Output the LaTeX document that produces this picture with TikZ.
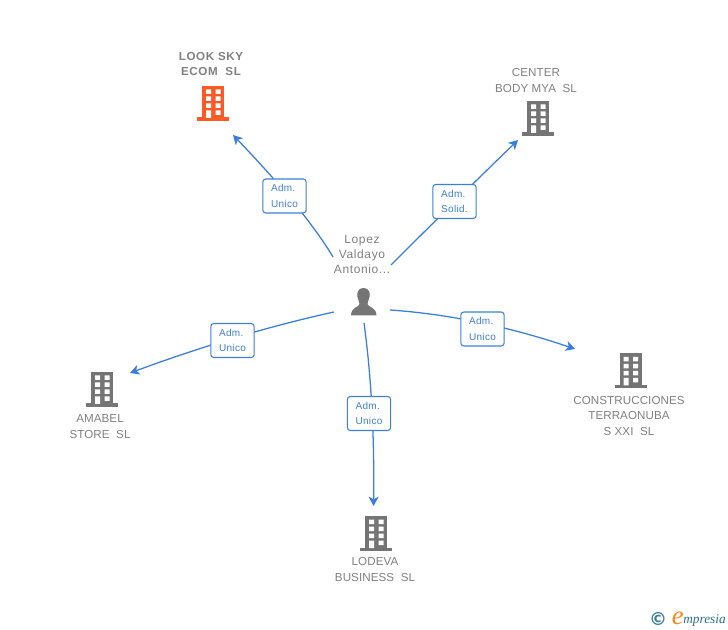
\documentclass[tikz,border=0pt]{standalone}
\usepackage{fontspec}
\usetikzlibrary{arrows.meta,calc}
\setmainfont{Liberation Sans}
\newfontfamily\logofont{Liberation Serif}
\newfontfamily\symfont{DejaVu Sans}
\definecolor{linkblue}{HTML}{3B7DDD}
\definecolor{labelblue}{HTML}{3F7FDB}
\definecolor{greytxt}{HTML}{808080}
\definecolor{bldgrey}{HTML}{757575}
\definecolor{bldorange}{HTML}{FF5A26}
\definecolor{logoteal}{HTML}{2C6E8A}
\definecolor{logoring}{HTML}{3E7E9C}
\definecolor{logoorange}{HTML}{F08A1D}
\newcommand{\qcurve}[3]{\draw[conn] (#1) .. controls ($(#1)!0.667!(#2)$) and ($(#3)!0.667!(#2)$) .. (#3);}
\tikzset{
  x=0.75pt,y=-0.75pt,
  conn/.style={draw=linkblue,line width=0.95pt,-{Stealth[length=7pt,width=7.5pt,inset=2pt]}},
  rel/.style={draw=labelblue,fill=white,rounded corners=2.2pt,line width=0.8pt,minimum width=32.5pt,minimum height=25.5pt,inner sep=0pt,align=left,text=labelblue,font=\fontsize{7.5}{11.4}\selectfont\addfontfeatures{LetterSpace=3}},
  nm/.style={align=center,text=greytxt,inner sep=0pt,font=\fontsize{8.7}{11.4}\selectfont\addfontfeatures{LetterSpace=0.7}},
  nmb/.style={align=center,text=greytxt,inner sep=0pt,font=\fontsize{8.7}{11.4}\selectfont\bfseries\addfontfeatures{LetterSpace=5.5}},
  nmp/.style={align=center,text=greytxt,inner sep=0pt,font=\fontsize{9}{11.25}\selectfont\addfontfeatures{LetterSpace=5}},
  pics/bld/.style={code={
    \fill[#1] (-11,0) rectangle (11,32);
    \fill[#1] (-16,31.5) rectangle (16,35);
    \fill[white] (-7,3.5) rectangle (-2,8) (2.5,3.5) rectangle (7.5,8)
      (-7,10.5) rectangle (-2,15) (2.5,10.5) rectangle (7.5,15)
      (-7,17.5) rectangle (-2,22) (2.5,17.5) rectangle (7.5,22)
      (-7,24.5) rectangle (-2,32) (2.5,24.5) rectangle (7.5,29);
  }},
}
\begin{document}
\begin{tikzpicture}
\useasboundingbox (0,0) rectangle (728,630);
% entities
\pic at (213,86) {bld=bldorange};
\pic at (538,101) {bld=bldgrey};
\pic at (102,372) {bld=bldgrey};
\pic at (630.5,353.5) {bld=bldgrey};
\pic at (376,516) {bld=bldgrey};
\node[nmb] (look) at (211,64) {LOOK SKY\\ECOM\ \ SL};
\node[nm] (center) at (536,80.5) {CENTER\\BODY MYA\ \ SL};
\node[nm] (amabel) at (100,426.5) {AMABEL\\STORE\ \ SL};
\node[nm] (constr) at (629,416) {CONSTRUCCIONES\\TERRAONUBA\\S XXI\ \ SL};
\node[nm] (lodeva) at (375,569.5) {LODEVA\\BUSINESS\ \ SL};
\node[nmp] (lopez) at (362,254) {Lopez\\Valdayo\\Antonio...};
% person
\fill[bldgrey] (363.5,288) .. controls (358,288) and (356.5,293) .. (357.5,297)
  .. controls (358,300) and (359.5,302) .. (359.5,304)
  .. controls (359.5,307) and (351,307) .. (351,315.5) -- (376.5,315.5)
  .. controls (376.5,307) and (367.5,307) .. (367.5,304)
  .. controls (367.5,302) and (369,300) .. (369.5,297)
  .. controls (370.5,293) and (369,288) .. (363.5,288) -- cycle;
% connector ends
\coordinate (s1) at (333,257); \coordinate (e1) at (233,135); \coordinate (c1) at (305,210);
\coordinate (s2) at (391,265); \coordinate (e2) at (518,140); \coordinate (c2) at (454,202);
\coordinate (s3) at (390,310); \coordinate (e3) at (575,349); \coordinate (c3) at (478,316);
\coordinate (s4) at (364,323); \coordinate (e4) at (373.5,506); \coordinate (c4) at (375,403);
\coordinate (s5) at (334,312); \coordinate (e5) at (130,373); \coordinate (c5) at (238,333);
\qcurve{s1}{c1}{e1}
\qcurve{s2}{c2}{e2}
\qcurve{s3}{c3}{e3}
\qcurve{s4}{c4}{e4}
\qcurve{s5}{c5}{e5}
\node[rel] (r1) at (284.5,196) {Adm.\\Unico};
\node[rel] (r2) at (454.5,201.5) {Adm.\\Solid.};
\node[rel] (r3) at (482.5,329) {Adm.\\Unico};
\node[rel] (r4) at (369,413.5) {Adm.\\Unico};
\node[rel] (r5) at (232.5,340.5) {Adm.\\Unico};
% logo
\node[inner sep=0pt,text=logoring] (copy) at (658,619) {\symfont\bfseries\fontsize{13.5}{15}\selectfont ©};
\node[inner sep=0pt,anchor=base west,text=logoteal] (brand) at (683,623) {\logofont\itshape\fontsize{10}{11}\selectfont mpresia};
\node[inner sep=0pt,anchor=base east,text=logoorange] (brande) at (684,624) {\logofont\itshape\fontsize{20}{21}\selectfont e};
\end{tikzpicture}
\end{document}
